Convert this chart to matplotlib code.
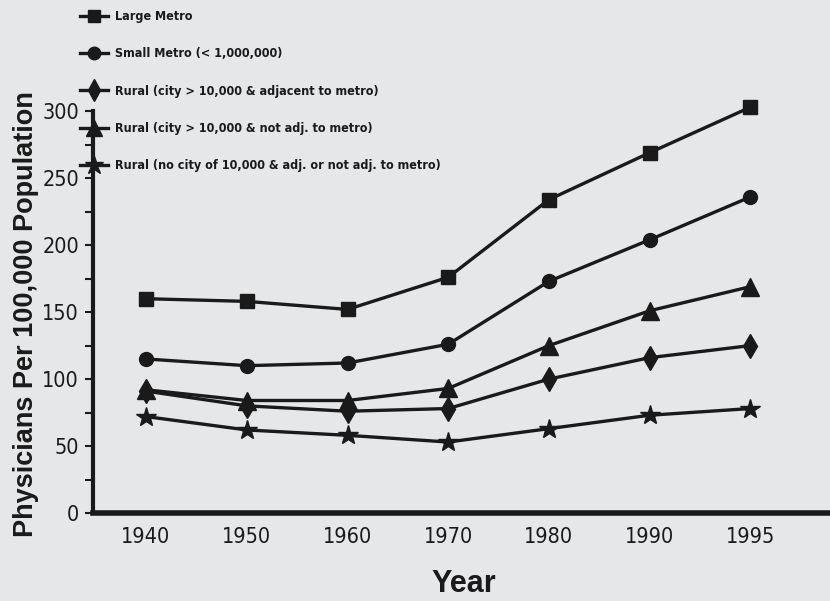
import glob
import os
import matplotlib
matplotlib.use("Agg")
import matplotlib.pyplot as plt
from matplotlib.font_manager import FontProperties
from matplotlib.ticker import MultipleLocator

years = ["1940", "1950", "1960", "1970", "1980", "1990", "1995"]
large_metro = [160, 158, 152, 176, 234, 269, 303]
small_metro = [115, 110, 112, 126, 173, 204, 236]
rural_adj = [91, 80, 76, 78, 100, 116, 125]
rural_not_adj = [92, 84, 84, 93, 125, 151, 169]
rural_no_city = [72, 62, 58, 53, 63, 73, 78]

labels = ["Large Metro", "Small Metro (< 1,000,000)",
          "Rural (city > 10,000 & adjacent to metro)",
          "Rural (city > 10,000 & not adj. to metro)",
          "Rural (no city of 10,000 & adj. or not adj. to metro)"]
series = [large_metro, small_metro, rural_adj, rural_not_adj, rural_no_city]
markers = ["s", "o", "d", "^", "*"]
msizes = [10, 10, 12, 13, 15]


def find_font(patterns):
    roots = ["/usr/share/fonts", "/usr/local/share/fonts",
             os.path.expanduser("~/.fonts"), os.path.expanduser("~/.local/share/fonts")]
    for p in patterns:
        for r in roots:
            hits = glob.glob(os.path.join(r, "**", p), recursive=True)
            if hits:
                return hits[0]
    return None


reg_file = find_font(["LiberationSansNarrow-Regular.ttf", "DejaVuSansCondensed.ttf"])
bold_file = find_font(["LiberationSansNarrow-Bold.ttf", "DejaVuSansCondensed-Bold.ttf"])
arial_bold = find_font(["LiberationSans-Bold.ttf"])


def fp(fname, size, weight="normal"):
    if fname:
        return FontProperties(fname=fname, size=size)
    return FontProperties(family=["Liberation Sans", "DejaVu Sans"], size=size, weight=weight)


tick_fp = fp(reg_file, 15.5)
leg_fp = fp(bold_file, 9, "bold")
lab_fp = fp(arial_bold, 19.5, "bold")
year_fp = fp(arial_bold, 22, "bold")

bg = "#e6e7e9"
ink = "#1a1a1a"
fig = plt.figure(figsize=(8.3, 6.01), dpi=100, facecolor=bg)
ax = fig.add_axes([0.112, 0.1464, 0.888, 0.6686], facecolor=bg)

x = list(range(len(years)))
handles = []
for vals, mk, ms, lab in zip(series, markers, msizes, labels):
    h, = ax.plot(x, vals, color=ink, lw=2.4, marker=mk, ms=ms, mfc=ink,
                 mec=ink, clip_on=False, label=lab, zorder=3)
    handles.append(h)

ax.set_xlim(-0.527, 6.79)
ax.set_ylim(0, 300)
ax.set_xticks(x)
ax.set_xticklabels(years)
ax.yaxis.set_major_locator(MultipleLocator(50))
ax.yaxis.set_minor_locator(MultipleLocator(25))
for s in ["top", "right"]:
    ax.spines[s].set_visible(False)
ax.spines["left"].set_linewidth(3)
ax.spines["bottom"].set_linewidth(4)
ax.spines["left"].set_color(ink)
ax.spines["bottom"].set_color(ink)
ax.tick_params(axis="y", which="both", length=6, width=1.5, color=ink,
               direction="out", pad=4)
ax.tick_params(axis="x", length=0, pad=10)
for t in ax.get_xticklabels() + ax.get_yticklabels():
    t.set_fontproperties(tick_fp)
    t.set_color(ink)

fig.text(0.559, 0.028, "Year", fontproperties=year_fp, color=ink,
         ha="center", va="center")
fig.text(0.031, 0.4775, "Physicians Per 100,000 Population", rotation=90,
         fontproperties=lab_fp, color=ink, ha="center", va="center")

leg = fig.legend(handles=handles, loc="upper left",
                 bbox_to_anchor=(0.086, 0.997), frameon=False,
                 prop=leg_fp, handlelength=2.25, handletextpad=0.55,
                 labelspacing=1.95, borderaxespad=0.25, markerscale=0.9)
for t in leg.get_texts():
    t.set_color(ink)

fig.savefig("out.png", dpi=100, facecolor=bg)
